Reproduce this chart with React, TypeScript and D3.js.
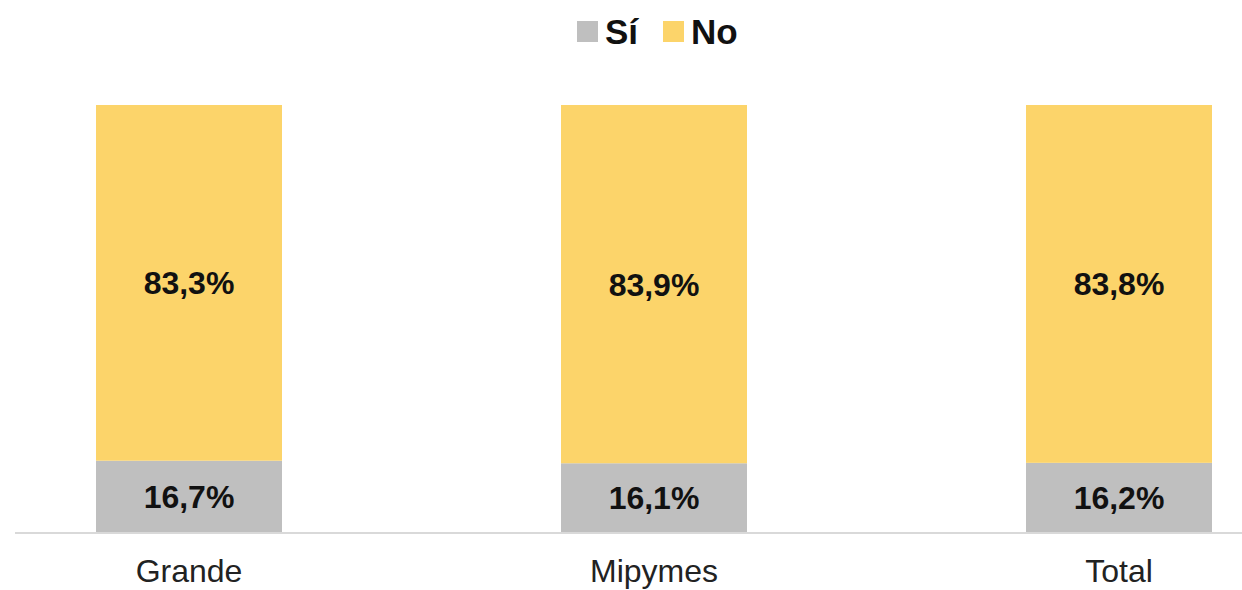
import { useEffect, useRef } from 'react';
import * as d3 from 'd3';

const categories = ['Grande', 'Mipymes', 'Total'];
const siValues = [16.7, 16.1, 16.2];
const noValues = [83.3, 83.9, 83.8];
const seriesNames = ['Sí', 'No'];
const colors = ['#bfbfbf', '#fcd46a'];

const App = () => {
  const svgRef = useRef(null);

  useEffect(() => {
    const svg = d3.select(svgRef.current);
    svg.selectAll('*').remove();

    const width = 1242;
    const top = 105;
    const bottom = 532;

    const rows = categories.map((c, i) => ({ cat: c, Sí: siValues[i], No: noValues[i] }));
    const stacked = d3.stack().keys(seriesNames)(rows);

    // bands chosen so bars land where the original puts them
    const x = d3.scaleBand()
      .domain(categories)
      .range([-43.5, 1351.5])
      .paddingInner(0.6)
      .paddingOuter(0.3);

    const y = d3.scaleLinear().domain([0, 100]).range([bottom, top]);

    const fmt = (v) => v.toFixed(1).replace('.', ',') + '%';

    stacked.forEach((layer, si) => {
      const g = svg.append('g');
      g.selectAll('rect')
        .data(layer)
        .enter()
        .append('rect')
        .attr('x', d => x(d.data.cat))
        .attr('y', d => y(d[1]))
        .attr('width', x.bandwidth())
        .attr('height', d => y(d[0]) - y(d[1]))
        .attr('fill', colors[si]);

      g.selectAll('text')
        .data(layer)
        .enter()
        .append('text')
        .attr('x', d => x(d.data.cat) + x.bandwidth() / 2)
        .attr('y', d => (y(d[0]) + y(d[1])) / 2)
        .attr('dy', '0.36em')
        .attr('text-anchor', 'middle')
        .attr('font-family', '"Liberation Sans", Arial, sans-serif')
        .attr('font-weight', 'bold')
        .attr('font-size', 32)
        .attr('fill', '#111')
        .text(d => fmt(d[1] - d[0]));
    });

    // baseline
    svg.append('line')
      .attr('x1', 15)
      .attr('x2', width)
      .attr('y1', bottom + 1)
      .attr('y2', bottom + 1)
      .attr('stroke', '#d9d9d9')
      .attr('stroke-width', 2);

    // category labels
    svg.append('g')
      .selectAll('text')
      .data(categories)
      .enter()
      .append('text')
      .attr('x', d => x(d) + x.bandwidth() / 2)
      .attr('y', 582)
      .attr('text-anchor', 'middle')
      .attr('font-family', '"Liberation Sans", Arial, sans-serif')
      .attr('font-size', 32)
      .attr('fill', '#222')
      .text(d => d);

    // legend
    const legendX = [577, 663];
    const legend = svg.append('g');
    seriesNames.forEach((name, i) => {
      legend.append('rect')
        .attr('x', legendX[i])
        .attr('y', 21)
        .attr('width', 21)
        .attr('height', 21)
        .attr('fill', colors[i]);
      legend.append('text')
        .attr('x', legendX[i] + 28)
        .attr('y', 44)
        .attr('font-family', '"Liberation Sans", Arial, sans-serif')
        .attr('font-weight', 'bold')
        .attr('font-size', 35)
        .attr('fill', '#111')
        .text(name);
    });
  }, []);

  return (
    <svg ref={svgRef} width={1242} height={590} style={{ position: 'absolute', left: 0, top: 0 }}></svg>
  );
};

export default App;
